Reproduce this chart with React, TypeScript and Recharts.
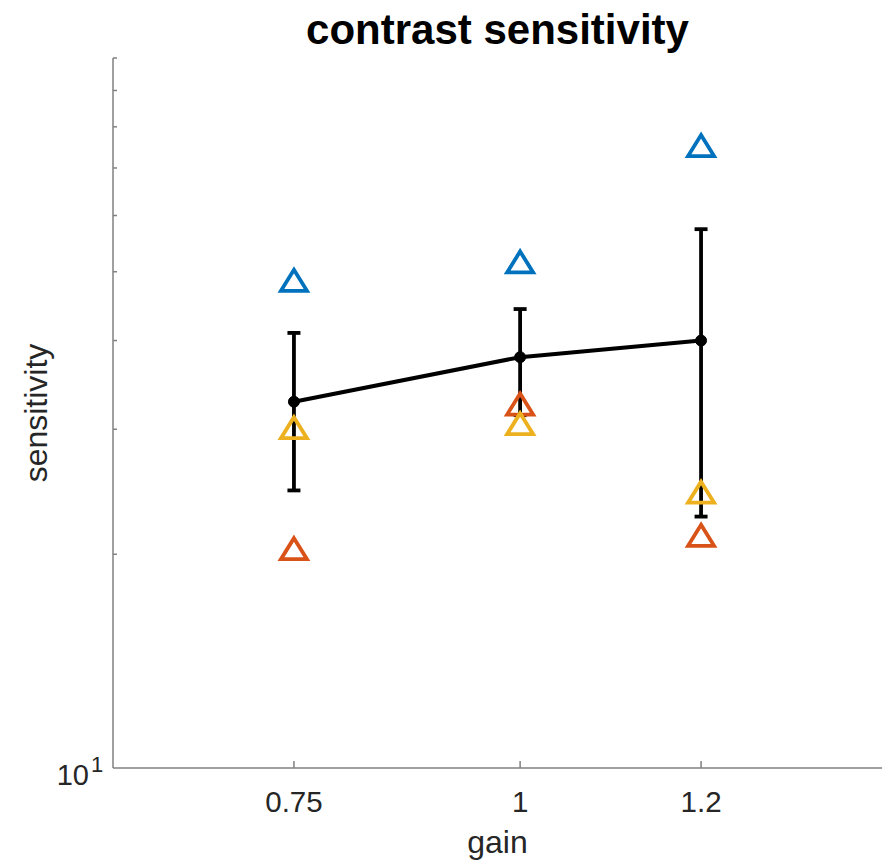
import React from 'react'
import { ComposedChart, Line, Scatter, ErrorBar, XAxis, YAxis } from 'recharts'

// gain levels on the x axis
const gains = [0.75, 1, 1.2]

// black line: mean sensitivity with its error bar ends
const meanSens = [32.8, 37.9, 40.0]
const errUpper = [41.0, 44.3, 57.4]
const errLower = [24.6, 31.4, 22.6]

// individual observers (triangles)
const blueSens = [48.7, 51.7, 75.4]
const orangeSens = [20.4, 32.6, 21.3]
const yellowSens = [30.2, 30.6, 24.5]

const xTicks = [0.75, 1, 1.2]
const yTicks = [10, 20, 30, 40, 50, 60, 70, 80, 90, 100]

const AXIS = '#808080'
const TEXT = '#262626'
const FONT = '"Liberation Sans", Arial, Helvetica, sans-serif'

const lineData = gains.map((g, i) => ({
  gain: g,
  mean: meanSens[i],
  err: [meanSens[i] - errLower[i], errUpper[i] - meanSens[i]],
}))

const toPoints = (vals: number[]) => gains.map((g, i) => ({ gain: g, v: vals[i] }))

const Triangle = (color: string) => (props: any) => {
  const { cx, cy } = props
  if (cx == null || cy == null) return null
  const d = `M${cx},${cy - 10} L${cx + 13},${cy + 11} L${cx - 13},${cy + 11} Z`
  return <path d={d} fill="none" stroke={color} strokeWidth={3.8} strokeLinejoin="miter" />
}

const YTick = (props: any) => {
  const { x, y, payload } = props
  const v = payload.value
  return (
    <g>
      {v !== 10 && <line x1={x} y1={y} x2={x + 4} y2={y} stroke={AXIS} strokeWidth={1.5} />}
      {v === 10 && (
        <g fontFamily={FONT} fill={TEXT}>
          <text x={x - 24} y={y + 17} fontSize={29} textAnchor="end">10</text>
          <text x={x - 22} y={y + 4} fontSize={22} textAnchor="start">1</text>
        </g>
      )}
    </g>
  )
}

const XTick = (props: any) => {
  const { x, y, payload } = props
  return (
    <g>
      <line x1={x} y1={y} x2={x} y2={y - 7} stroke={AXIS} strokeWidth={1.5} />
      <text x={x} y={y + 44} fontSize={29.5} textAnchor="middle" fontFamily={FONT} fill={TEXT}>
        {String(payload.value)}
      </text>
    </g>
  )
}

const XLabel = (props: any) => {
  const vb = props.viewBox || { x: 113, y: 768, width: 769, height: 97 }
  return (
    <text x={vb.x + vb.width / 2} y={vb.y + 85} fontSize={32} textAnchor="middle" fontFamily={FONT} fill={TEXT}>
      gain
    </text>
  )
}

const YLabel = (props: any) => {
  const vb = props.viewBox || { x: 0, y: 58, width: 113, height: 710 }
  const cx = vb.x + 36
  const cy = vb.y + vb.height / 2
  return (
    <text
      x={cx}
      y={cy}
      transform={`rotate(-90, ${cx}, ${cy})`}
      fontSize={32}
      textAnchor="middle"
      dominantBaseline="central"
      fontFamily={FONT}
      fill={TEXT}
    >
      sensitivity
    </text>
  )
}

export default function App() {
  return (
    <div style={{ position: 'relative', width: 887, height: 865, background: '#fff' }}>
      <style>{'body{margin:0;background:#fff}'}</style>
      <div
        style={{
          position: 'absolute',
          left: 113,
          width: 769,
          top: 9,
          textAlign: 'center',
          fontFamily: FONT,
          fontWeight: 'bold',
          fontSize: 42,
          lineHeight: '42px',
          color: '#000',
        }}
      >
        contrast sensitivity
      </div>
      <ComposedChart
        width={887}
        height={865}
        data={lineData}
        margin={{ top: 58, right: 5, bottom: 0, left: 0 }}
      >
        <XAxis
          dataKey="gain"
          type="number"
          domain={[0.55, 1.4]}
          ticks={xTicks}
          allowDataOverflow
          height={97}
          tickSize={0}
          tickMargin={0}
          tickLine={false}
          axisLine={{ stroke: AXIS, strokeWidth: 1.5 }}
          tick={<XTick />}
          label={{ content: <XLabel /> }}
        />
        <YAxis
          type="number"
          scale="log"
          domain={[10, 100]}
          ticks={yTicks}
          interval={0}
          allowDataOverflow
          width={113}
          tickSize={0}
          tickMargin={0}
          tickLine={false}
          axisLine={{ stroke: AXIS, strokeWidth: 1.5 }}
          tick={<YTick />}
          label={{ content: <YLabel /> }}
        />
        <Scatter data={toPoints(blueSens)} dataKey="v" shape={Triangle('#0072BD')} isAnimationActive={false} />
        <Scatter data={toPoints(orangeSens)} dataKey="v" shape={Triangle('#D95319')} isAnimationActive={false} />
        <Scatter data={toPoints(yellowSens)} dataKey="v" shape={Triangle('#EDB120')} isAnimationActive={false} />
        <Line
          dataKey="mean"
          type="linear"
          stroke="#000"
          strokeWidth={4}
          dot={{ r: 5.5, fill: '#000', stroke: '#000', strokeWidth: 1 }}
          activeDot={false}
          isAnimationActive={false}
        >
          <ErrorBar dataKey="err" direction="y" width={6.5} stroke="#000" strokeWidth={3.8} isAnimationActive={false} />
        </Line>
      </ComposedChart>
    </div>
  )
}
